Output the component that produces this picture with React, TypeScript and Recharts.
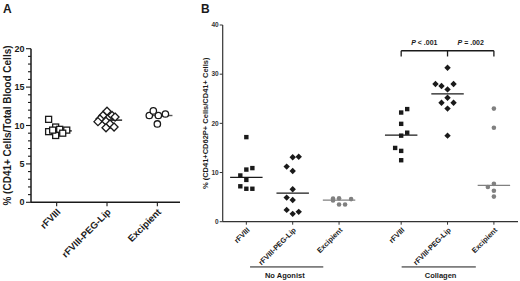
import React from 'react';
import { ScatterChart, Scatter, XAxis, YAxis, ReferenceLine, ReferenceDot, Label } from 'recharts';

const FONT = '"Liberation Sans", Arial, Helvetica, sans-serif';
const INK = '#1a1a1a';
const GRAY = '#808080';

// ---------- Panel A data ----------
const categoriesA = ['rFVIII', 'rFVIII-PEG-Lip', 'Excipient'];
const positionsA = [0, 1, 2];
const aRFVIII = [10.8, 9.8, 9.2, 9.5, 9.4, 8.7, 9.0, 9.4];
const aRFVIIIJitter = [-0.16, -0.02, -0.16, 0.06, 0.2, -0.02, 0.12, -0.08];
const aPegLip = [11.85, 11.3, 11.3, 10.85, 10.5, 10.55, 11.1, 10.2, 9.7, 9.8];
const aPegLipJitter = [0, -0.08, 0.1, -0.14, -0.18, -0.02, 0.16, 0.06, -0.02, 0.14];
const aExcipient = [11.3, 11.9, 11.3, 11.5, 10.2];
const aExcipientJitter = [-0.16, -0.08, 0.02, 0.16, 0];
const mediansA = [9.3, 10.7, 11.3];
const yMajorTicksA = [0, 5, 10, 15, 20];
const yAllTicksA = [0, 1, 2, 3, 4, 5, 6, 7, 8, 9, 10, 11, 12, 13, 14, 15, 16, 17, 18, 19, 20];

// ---------- Panel B data ----------
const categoriesB = ['rFVIII', 'rFVIII-PEG-Lip', 'Excipient', 'rFVIII', 'rFVIII-PEG-Lip', 'Excipient'];
const positionsB = [0, 1, 2, 3.34, 4.34, 5.34];
const bNoAgRFVIII = [17.2, 10.6, 10.9, 9.4, 8.5, 7.2, 6.7, 6.7];
const bNoAgRFVIIIJitter = [0, 0, 0.13, -0.13, 0, -0.13, 0, 0.13];
const bNoAgPegLip = [13.1, 13.2, 11.2, 10.3, 6.6, 4.9, 4.4, 2.4, 1.6, 2.0];
const bNoAgPegLipJitter = [0, 0.13, -0.13, 0, 0, -0.13, 0, -0.13, 0, 0.13];
const bNoAgExcipient = [4.7, 4.3, 4.75, 4.6, 3.5, 3.5];
const bNoAgExcipientJitter = [-0.13, -0.13, 0, 0.26, 0, 0.13];
const bColRFVIII = [22.2, 22.9, 19.9, 18.1, 17.5, 15.0, 14.4, 12.5];
const bColRFVIIIJitter = [0, 0.13, 0, 0.13, 0, -0.13, 0, 0];
const bColPegLip = [31.3, 28.0, 27.6, 28.0, 26.9, 25.2, 24.2, 24.2, 23.0, 17.5];
const bColPegLipJitter = [0, -0.26, -0.13, 0.13, 0, 0, -0.13, 0.13, 0, 0];
const bColExcipient = [23.0, 19.1, 7.7, 7.05, 6.3, 5.1];
const bColExcipientJitter = [0, 0, 0, -0.13, 0, 0];
const mediansB = [9.0, 5.8, 4.4, 17.6, 26.0, 7.4];
const medianColorsB = [INK, INK, GRAY, INK, INK, GRAY];
const yTicksB = [0, 10, 20, 30, 40];
const groupLabels = ['No Agonist', 'Collagen'];
const groupLineRanges = [[0.08, 1.66], [3.35, 4.95]];
const groupLabelCenters = [0.83, 4.19];
const pValues = ['< .001', '= .002'];

const build = (values: number[], jitter: number[], pos: number) =>
  values.map((v, i) => ({ x: pos + jitter[i], y: v }));

// ---------- shapes ----------
const openSquare = (p: any) => (
  <rect x={p.cx - 3} y={p.cy - 3} width={6} height={6} fill="#fff" stroke={INK} strokeWidth={1.3} />
);
const openDiamond = (p: any) => (
  <polygon
    points={`${p.cx},${p.cy - 4} ${p.cx + 4},${p.cy} ${p.cx},${p.cy + 4} ${p.cx - 4},${p.cy}`}
    fill="#fff"
    stroke={INK}
    strokeWidth={1.3}
  />
);
const openCircle = (p: any) => <circle cx={p.cx} cy={p.cy} r={3.2} fill="#fff" stroke={INK} strokeWidth={1.3} />;
const filledSquare = (p: any) => <rect x={p.cx - 2.2} y={p.cy - 2.2} width={4.4} height={4.4} fill={INK} />;
const filledDiamond = (p: any) => (
  <polygon
    points={`${p.cx},${p.cy - 3.2} ${p.cx + 3.2},${p.cy} ${p.cx},${p.cy + 3.2} ${p.cx - 3.2},${p.cy}`}
    fill={INK}
  />
);
const grayDot = (p: any) => <circle cx={p.cx} cy={p.cy} r={2.3} fill={GRAY} />;

// ---------- ticks ----------
const YTickA = (props: any) => {
  const { x, y, payload } = props;
  const major = yMajorTicksA.includes(payload.value);
  return (
    <g>
      <line x1={x - (major ? 5 : 3)} x2={x} y1={y} y2={y} stroke={INK} strokeWidth={1.1} />
      {major && (
        <text x={x - 6.5} y={y} dy="0.35em" textAnchor="end" fontSize={9} fontWeight="bold" fontFamily={FONT} fill={INK}>
          {payload.value}
        </text>
      )}
    </g>
  );
};

const XTickA = (props: any) => {
  const { x, y, index } = props;
  return (
    <g>
      <line x1={x} x2={x} y1={y} y2={y + 4} stroke={INK} strokeWidth={1.1} />
      <text
        transform={`translate(${x + 2},${y + 8}) rotate(-45)`}
        textAnchor="end"
        dy="0.35em"
        fontSize={9.5}
        fontWeight="bold"
        fontFamily={FONT}
        fill={INK}
      >
        {categoriesA[index]}
      </text>
    </g>
  );
};

const YTickB = (props: any) => {
  const { x, y, payload } = props;
  return (
    <g>
      <line x1={x - 3} x2={x} y1={y} y2={y} stroke="#333" strokeWidth={1} />
      <text x={x - 4} y={y} dy="0.35em" textAnchor="end" fontSize={6.5} fontWeight="bold" fontFamily={FONT} fill="#333">
        {payload.value}
      </text>
    </g>
  );
};

const XTickB = (props: any) => {
  const { x, y, index } = props;
  return (
    <g>
      <line x1={x} x2={x} y1={y} y2={y + 3} stroke="#333" strokeWidth={1} />
      <text
        transform={`translate(${x + 2},${y + 7}) rotate(-45)`}
        textAnchor="end"
        dy="0.35em"
        fontSize={7.3}
        fontWeight="bold"
        fontFamily={FONT}
        fill={INK}
      >
        {categoriesB[index]}
      </text>
    </g>
  );
};

const yLabel = (text: string, dx: number, fontSize: number) => (props: any) => {
  const vb = props.viewBox;
  const cx = vb.x + dx;
  const cy = vb.y + vb.height / 2;
  return (
    <text
      transform={`translate(${cx},${cy}) rotate(-90)`}
      textAnchor="middle"
      dy="0.35em"
      fontSize={fontSize}
      fontWeight="bold"
      fontFamily={FONT}
      fill={INK}
    >
      {text}
    </text>
  );
};

const centeredText = (content: React.ReactNode, fontSize: number) => (props: any) => {
  const vb = props.viewBox;
  const cx = vb.x + (vb.width || 0) / 2;
  const cy = vb.y + (vb.height || 0) / 2;
  return (
    <text x={cx} y={cy} dy="0.35em" textAnchor="middle" fontSize={fontSize} fontWeight="bold" fontFamily={FONT} fill={INK}>
      {content}
    </text>
  );
};

export default function App() {
  return (
    <div style={{ position: 'absolute', left: 0, top: 0, width: 520, height: 281, background: '#fff', overflow: 'hidden' }}>
      <div style={{ position: 'absolute', left: 3, top: 2, fontFamily: FONT, fontWeight: 'bold', fontSize: 12, color: INK }}>A</div>
      <div style={{ position: 'absolute', left: 201, top: 2, fontFamily: FONT, fontWeight: 'bold', fontSize: 12, color: INK }}>B</div>

      {/* Panel A */}
      <div style={{ position: 'absolute', left: 0, top: 0 }}>
        <ScatterChart width={200} height={281} margin={{ top: 48.7, right: 20, bottom: 0, left: 0 }}>
          <XAxis
            type="number"
            dataKey="x"
            domain={[-0.51, 2.45]}
            allowDataOverflow
            ticks={positionsA}
            interval={0}
            height={78.7}
            tickSize={0}
            tickMargin={0}
            tickLine={false}
            tick={<XTickA />}
            axisLine={{ stroke: INK, strokeWidth: 1.5 }}
          />
          <YAxis
            type="number"
            dataKey="y"
            domain={[0, 20]}
            allowDataOverflow
            ticks={yAllTicksA}
            interval={0}
            width={31}
            tickSize={0}
            tickMargin={0}
            tickLine={false}
            tick={<YTickA />}
            axisLine={{ stroke: INK, strokeWidth: 1.5 }}
          >
            <Label content={yLabel('% (CD41+ Cells/Total Blood Cells)', 7.5, 10)} />
          </YAxis>
          <Scatter data={build(aRFVIII, aRFVIIIJitter, positionsA[0])} shape={openSquare} isAnimationActive={false} />
          <Scatter data={build(aPegLip, aPegLipJitter, positionsA[1])} shape={openDiamond} isAnimationActive={false} />
          <Scatter data={build(aExcipient, aExcipientJitter, positionsA[2])} shape={openCircle} isAnimationActive={false} />
          {mediansA.map((m, i) => (
            <ReferenceLine
              key={`ma${i}`}
              segment={[
                { x: positionsA[i] - 0.22, y: m },
                { x: positionsA[i] + 0.3, y: m },
              ]}
              stroke={i === 2 ? '#555' : INK}
              strokeWidth={1.4}
              ifOverflow="visible"
            />
          ))}
        </ScatterChart>
      </div>

      {/* Panel B */}
      <div style={{ position: 'absolute', left: 200, top: 0 }}>
        <ScatterChart width={320} height={281} margin={{ top: 25, right: 2, bottom: 0, left: 0 }}>
          <XAxis
            type="number"
            dataKey="x"
            domain={[-0.51, 5.86]}
            allowDataOverflow
            ticks={positionsB}
            interval={0}
            height={59.3}
            tickSize={0}
            tickMargin={0}
            tickLine={false}
            tick={<XTickB />}
            axisLine={{ stroke: '#333', strokeWidth: 1.2 }}
          />
          <YAxis
            type="number"
            dataKey="y"
            domain={[0, 40]}
            allowDataOverflow
            ticks={yTicksB}
            interval={0}
            width={22.7}
            tickSize={0}
            tickMargin={0}
            tickLine={false}
            tick={<YTickB />}
            axisLine={{ stroke: '#333', strokeWidth: 1.2 }}
          >
            <Label content={yLabel('% (CD41+CD62P+ Cells/CD41+ Cells)', 5, 7.5)} />
          </YAxis>
          <Scatter data={build(bNoAgRFVIII, bNoAgRFVIIIJitter, positionsB[0])} shape={filledSquare} isAnimationActive={false} />
          <Scatter data={build(bNoAgPegLip, bNoAgPegLipJitter, positionsB[1])} shape={filledDiamond} isAnimationActive={false} />
          <Scatter data={build(bNoAgExcipient, bNoAgExcipientJitter, positionsB[2])} shape={grayDot} isAnimationActive={false} />
          <Scatter data={build(bColRFVIII, bColRFVIIIJitter, positionsB[3])} shape={filledSquare} isAnimationActive={false} />
          <Scatter data={build(bColPegLip, bColPegLipJitter, positionsB[4])} shape={filledDiamond} isAnimationActive={false} />
          <Scatter data={build(bColExcipient, bColExcipientJitter, positionsB[5])} shape={grayDot} isAnimationActive={false} />
          {mediansB.map((m, i) => (
            <ReferenceLine
              key={`mb${i}`}
              segment={[
                { x: positionsB[i] - 0.35, y: m },
                { x: positionsB[i] + 0.35, y: m },
              ]}
              stroke={medianColorsB[i]}
              strokeWidth={1.2}
              ifOverflow="visible"
            />
          ))}
          {/* significance bracket */}
          <ReferenceLine
            segment={[
              { x: positionsB[3], y: 34.76 },
              { x: positionsB[5], y: 34.76 },
            ]}
            stroke={INK}
            strokeWidth={1.3}
            ifOverflow="visible"
          />
          {[3, 4, 5].map((k) => (
            <ReferenceLine
              key={`bt${k}`}
              segment={[
                { x: positionsB[k], y: 34.76 },
                { x: positionsB[k], y: 33.6 },
              ]}
              stroke={INK}
              strokeWidth={1.3}
              ifOverflow="visible"
            />
          ))}
          {pValues.map((p, i) => (
            <ReferenceDot
              key={`p${i}`}
              x={(positionsB[3 + i] + positionsB[4 + i]) / 2}
              y={36.4}
              r={0}
              fill="none"
              stroke="none"
              ifOverflow="visible"
            >
              <Label
                content={centeredText(
                  <>
                    <tspan fontStyle="italic">P</tspan>
                    {` ${p}`}
                  </>,
                  7
                )}
              />
            </ReferenceDot>
          ))}
          {/* group labels */}
          {groupLineRanges.map((r, i) => (
            <ReferenceLine
              key={`gl${i}`}
              segment={[
                { x: r[0], y: -9.2 },
                { x: r[1], y: -9.2 },
              ]}
              stroke={INK}
              strokeWidth={1}
              ifOverflow="visible"
            />
          ))}
          {groupLabels.map((g, i) => (
            <ReferenceDot key={`g${i}`} x={groupLabelCenters[i]} y={-11.0} r={0} fill="none" stroke="none" ifOverflow="visible">
              <Label content={centeredText(g, 7.5)} />
            </ReferenceDot>
          ))}
        </ScatterChart>
      </div>
    </div>
  );
}
